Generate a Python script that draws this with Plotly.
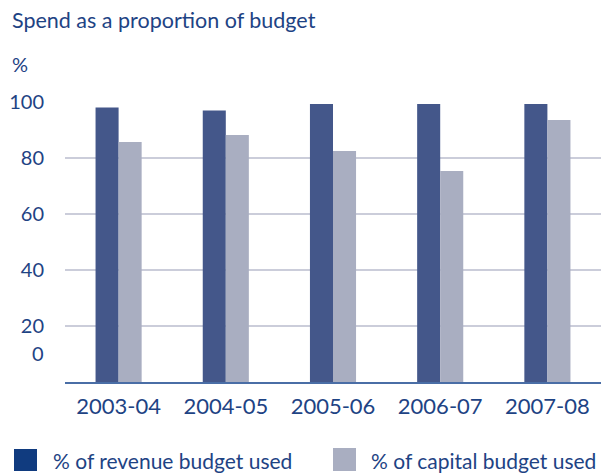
import plotly.graph_objects as go

# Financial years and spend as a percentage of budget
years = ["2003-04", "2004-05", "2005-06", "2006-07", "2007-08"]
revenue_used = [98, 97, 99.3, 99.3, 99.3]
capital_used = [85.7, 88.2, 82.5, 75.4, 93.6]
y_ticks = [20, 40, 60, 80, 100]
y_tick_text = ["20", "40", "60", "80", "100"]

W, H = 611, 475
ML, MR, MT, MB = 65, 10, 102, 93
PW, PH = W - ML - MR, H - MT - MB

TEXT = "#1e4384"
REV = "#44578a"
CAP = "#a9aec1"
REV_KEY = "#103b7f"
FONT = "Lato"


def px_x(x):
    return (x - ML) / PW


def px_y(y):
    return (H - MB - y) / PH


fig = go.Figure()
fig.add_bar(x=years, y=revenue_used, name="% of revenue budget used",
            marker=dict(color=REV, line=dict(width=0)))
fig.add_bar(x=years, y=capital_used, name="% of capital budget used",
            marker=dict(color=CAP, line=dict(width=0)))

annotations = [
    dict(text="Spend as a proportion of budget", x=px_x(10), y=px_y(20),
         xanchor="left", yanchor="middle", font=dict(size=21.5, color=TEXT)),
    dict(text="%", x=px_x(10), y=px_y(64), xanchor="left", yanchor="middle",
         font=dict(size=20, color=TEXT)),
    dict(text="0", x=px_x(46), y=px_y(353), xanchor="right", yanchor="middle",
         font=dict(size=20, color=TEXT)),
    dict(text="% of revenue budget used", x=px_x(51), y=px_y(460),
         xanchor="left", yanchor="middle", font=dict(size=21, color=TEXT)),
    dict(text="% of capital budget used", x=px_x(369), y=px_y(460),
         xanchor="left", yanchor="middle", font=dict(size=21, color=TEXT)),
]
for a in annotations:
    a.update(xref="paper", yref="paper", showarrow=False)

shapes = [
    dict(type="rect", xref="paper", yref="paper", x0=px_x(14), x1=px_x(37),
         y0=px_y(471), y1=px_y(449), fillcolor=REV_KEY, line=dict(width=0)),
    dict(type="rect", xref="paper", yref="paper", x0=px_x(333), x1=px_x(356),
         y0=px_y(471), y1=px_y(448), fillcolor=CAP, line=dict(width=0)),
]

fig.update_layout(
    width=W, height=H,
    margin=dict(l=ML, r=MR, t=MT, b=MB),
    paper_bgcolor="white", plot_bgcolor="white",
    barmode="group", bargap=0.57, bargroupgap=0,
    showlegend=False,
    font=dict(family=FONT, color=TEXT),
    annotations=annotations,
    shapes=shapes,
)
fig.update_xaxes(
    type="category",
    showline=True, linecolor="#4a6ea6", linewidth=2,
    showgrid=False, ticks="", tickfont=dict(size=22, color=TEXT),
    ticklabelstandoff=4,
)
fig.update_yaxes(
    range=[0, 100], tickvals=y_ticks, ticktext=y_tick_text,
    showgrid=True, gridcolor="#cbcdda", gridwidth=1.5,
    zeroline=False, showline=False, ticks="",
    tickfont=dict(size=20, color=TEXT), ticklabelstandoff=20,
)

fig.write_html("out.html")
